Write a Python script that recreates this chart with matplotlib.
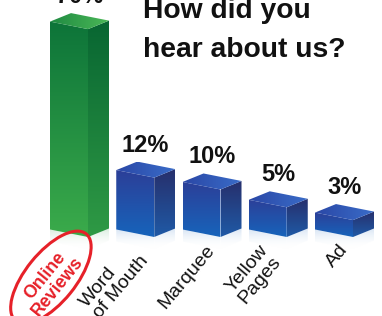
import numpy as np
import matplotlib
matplotlib.use("Agg")
import matplotlib.pyplot as plt
from matplotlib.patches import Polygon, Ellipse
from matplotlib.transforms import ScaledTranslation
from matplotlib.colors import to_rgba

# ---- data ----
categories = ["Online\nReviews", "Word\nof Mouth", "Marquee", "Yellow\nPages", "Ad"]
percent_values = [70, 12, 10, 5, 3]
# visual heights of the drawn boxes (read from the picture, not proportional)
drawn_heights = [70, 20, 16, 10, 5.7]
title_lines = ["How did you", "hear about us?"]

plt.rcParams["font.family"] = ["Liberation Sans", "DejaVu Sans"]

# ---- styling ----
GREEN = dict(left=("#0d7439", "#3bab4b"), right=("#086632", "#2f9a45"),
             top=("#1f8a42", "#4bb857"), refl="#d5eadb")
BLUE = dict(left=("#2c3f98", "#1764bb"), right=("#272f6c", "#1f5aa6"),
            top=("#2a47a6", "#3a6cc8"), refl="#d3e2f3")
styles = [GREEN, BLUE, BLUE, BLUE, BLUE]

W, H = 382, 316
PXX, PXY = 66.25, 2.97          # pixels per data unit
LW, RW = 38 / PXX, 21 / PXX     # left / right face widths
LD, RD = 7.5 / PXY, 8.5 / PXY   # vertical drop of side corners
REFL = 12 / PXY

fig = plt.figure(figsize=(W / 100, H / 100), dpi=100)
ax = fig.add_axes([0, 0, 1, 1])
ax.set_xlim(-88 / PXX, (W - 88) / PXX)
ax.set_ylim(-(H - 237) / PXY, 237 / PXY)
ax.axis("off")


def grad_fill(verts, c_a, c_b, a_a=1.0, a_b=1.0, horizontal=False, z=2):
    verts = np.asarray(verts, float)
    poly = Polygon(verts, closed=True, facecolor="none", edgecolor="none")
    ax.add_patch(poly)
    x0, x1 = verts[:, 0].min(), verts[:, 0].max()
    y0, y1 = verts[:, 1].min(), verts[:, 1].max()
    n = 200
    t = np.linspace(0, 1, n)[:, None]
    ca = np.array(to_rgba(c_a, a_a))
    cb = np.array(to_rgba(c_b, a_b))
    cols = ca * (1 - t) + cb * t
    if horizontal:
        arr = cols[None, :, :]           # left (c_a) -> right (c_b)
    else:
        arr = cols[:, None, :]           # top (c_a) -> bottom (c_b)
    im = ax.imshow(arr, extent=[x0, x1, y0, y1], origin="upper", aspect="auto",
                   interpolation="bilinear", zorder=z)
    im.set_clip_path(poly)


for i, (h, st) in enumerate(zip(drawn_heights, styles)):
    xl, xr = i - LW, i + RW
    # reflections
    grad_fill([(xl, LD), (i, 0), (i, -REFL), (xl, LD - REFL)],
              st["refl"], "white", 0.9, 0.0, z=1)
    grad_fill([(i, 0), (xr, RD), (xr, RD - REFL), (i, -REFL)],
              st["refl"], "white", 0.9, 0.0, z=1)
    # left face
    grad_fill([(xl, LD), (i, 0), (i, h), (xl, h + LD)], *st["left"], z=2)
    # right face
    grad_fill([(i, 0), (xr, RD), (xr, h + RD), (i, h)], *st["right"], z=2)
    # top face
    back = (xl + RW, h + LD + RD)
    grad_fill([(i, h), (xl, h + LD), back, (xr, h + RD)], *st["top"],
              horizontal=True, z=3)
    # value label
    ax.text(i - 0.13, h + LD + RD + 10 / PXY, f"{percent_values[i]}%",
            ha="center", va="baseline", fontsize=17, fontweight="bold",
            color="#111111", zorder=5)
    # category label
    if i == 0:
        cx, cy = -0.55, -14.8
        ax.text(cx, cy, categories[i], rotation=51, rotation_mode="anchor",
                ha="center", va="center", multialignment="center",
                fontsize=12.8, fontweight="bold", color="#e62129",
                linespacing=1.0, zorder=5)
        ell = Ellipse((0, 0), 1.12, 0.50, angle=51, fill=False,
                      edgecolor="#e62129", linewidth=2.2,
                      transform=fig.dpi_scale_trans + ScaledTranslation(-0.56, -13.6, ax.transData),
                      zorder=5)
        ax.add_patch(ell)
    else:
        ax.text(i - 0.03, -1.5, categories[i], rotation=50,
                ha="right", va="top", multialignment="left",
                fontsize=14, color="#111111", linespacing=1.05, zorder=5)

# title
fig.text(143 / W, 1 - 18 / H, title_lines[0], ha="left", va="baseline",
         fontsize=20.3, fontweight="bold", color="#111111")
fig.text(143 / W, 1 - 57 / H, title_lines[1], ha="left", va="baseline",
         fontsize=20.3, fontweight="bold", color="#111111")

fig.savefig("out.png", dpi=100)
